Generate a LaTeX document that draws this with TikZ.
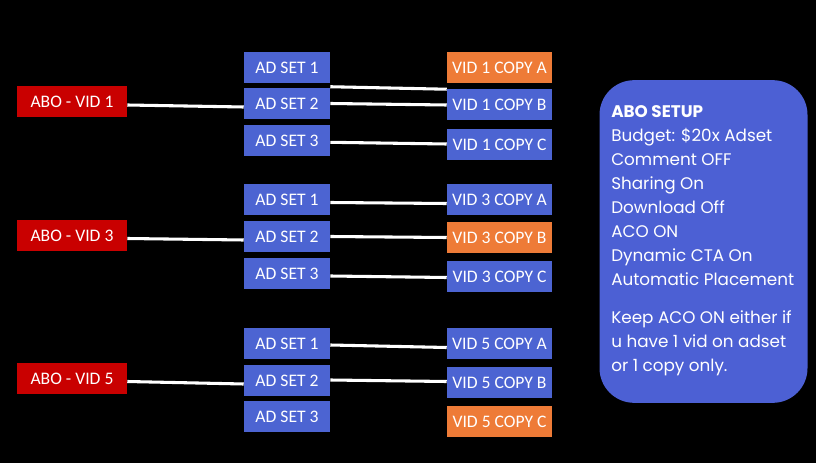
\documentclass[tikz,border=0pt]{standalone}
\usepackage{fontspec}
\setmainfont{Carlito}
\newfontfamily\panelfont{Poppins}
\usetikzlibrary{calc}
\definecolor{abored}{HTML}{C90000}
\definecolor{adblue}{HTML}{4C64D2}
\definecolor{vidorange}{HTML}{EE7B37}
\definecolor{panelblue}{HTML}{4C60D4}
\tikzset{
  base/.style={inner sep=0pt, text=white, font=\fontsize{13.2pt}{14pt}\selectfont, minimum height=23.25pt},
  abo/.style={base, fill=abored, minimum width=82.5pt},
  adset/.style={base, fill=adblue, minimum width=64.5pt},
  vid/.style={base, fill=adblue, minimum width=78.75pt},
  vidhl/.style={vid, fill=vidorange},
  link/.style={draw=white, line width=2.3pt},
}
\begin{document}
\begin{tikzpicture}[x=0.75pt,y=-0.75pt]
\fill[black] (0,0) rectangle (816,463);
\useasboundingbox (0,0) rectangle (816,463);
% column 1
\node[abo] (r1) at (72,102) {ABO - VID 1};
\node[abo] (r3) at (72,235.5) {ABO - VID 3};
\node[abo] (r5) at (72,378.5) {ABO - VID 5};
% ad sets
\node[adset] (s11) at (287,67.5) {AD SET 1};
\node[adset] (s12) at (287,103.5) {AD SET 2};
\node[adset] (s13) at (287,140.5) {AD SET 3};
\node[adset] (s21) at (287,199.5) {AD SET 1};
\node[adset] (s22) at (287,236.5) {AD SET 2};
\node[adset] (s23) at (287,273.5) {AD SET 3};
\node[adset] (s31) at (287,343.5) {AD SET 1};
\node[adset] (s32) at (287,380.5) {AD SET 2};
\node[adset] (s33) at (287,416.5) {AD SET 3};
% videos
\node[vidhl] (v1a) at (499.5,67.5) {VID 1 COPY A};
\node[vid] (v1b) at (499.5,105) {VID 1 COPY B};
\node[vid] (v1c) at (499.5,145) {VID 1 COPY C};
\node[vid] (v3a) at (499.5,199.5) {VID 3 COPY A};
\node[vidhl] (v3b) at (499.5,237.5) {VID 3 COPY B};
\node[vid] (v3c) at (499.5,276.5) {VID 3 COPY C};
\node[vid] (v5a) at (499.5,343.5) {VID 5 COPY A};
\node[vid] (v5b) at (499.5,382.5) {VID 5 COPY B};
\node[vidhl] (v5c) at (499.5,421.5) {VID 5 COPY C};
% links group 1
\draw[link] ($(r1.east)+(0,3)$) -- ($(s12.west)+(0,3.5)$);
\draw[link] ($(s12.north east)+(0,-1)$) -- (v1b.north west);
\draw[link] (s12.east) -- (v1b.west);
\draw[link] ($(s13.east)+(0,1.8)$) -- ($(v1c.west)+(0,-1)$);
% links group 2
\draw[link] ($(r3.east)+(0,3)$) -- ($(s22.west)+(0,3.5)$);
\draw[link] ($(s21.east)+(0,3)$) -- ($(v3a.west)+(0,4)$);
\draw[link] (s22.east) -- (v3b.west);
\draw[link] ($(s23.east)+(0,2.5)$) -- ($(v3c.west)+(0,1)$);
% links group 3
\draw[link] ($(r5.east)+(0,3)$) -- ($(s32.west)+(0,3.5)$);
\draw[link] ($(s31.east)+(0,1.5)$) -- ($(v5a.west)+(0,4)$);
\draw[link] ($(s32.east)+(0,-0.5)$) -- ($(v5b.west)+(0,-1)$);
% setup panel
\node[fill=panelblue, rounded corners=26pt, minimum width=156pt, minimum height=242pt, inner sep=0pt] (panel) at (703.5,241.5) {};
\node[anchor=north west, text=white, inner sep=0pt, align=left,
      font=\panelfont\fontsize{12.6pt}{18pt}\selectfont] (setup) at (611,105)
{\textbf{ABO SETUP}\\
Budget: \$20x Adset\\
Comment OFF\\
Sharing On\\
Download Off\\
ACO ON\\
Dynamic CTA On\\
Automatic Placement\\[11pt]
Keep ACO ON either if\\
u have 1 vid on adset\\
or 1 copy only.};
\end{tikzpicture}
\end{document}
